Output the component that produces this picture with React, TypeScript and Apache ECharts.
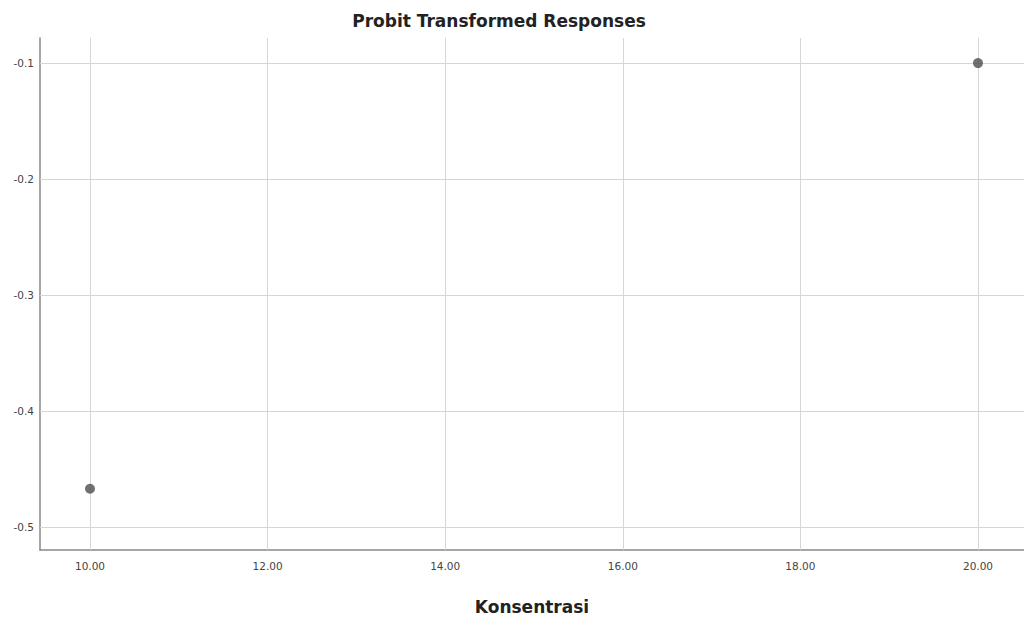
import React, { useEffect, useRef } from "react";
import * as echarts from "echarts";

const concentrations = [10, 20];
const probitValues = [-0.467, -0.1];
const xTicks = [10, 12, 14, 16, 18, 20];
const yTicks = [-0.5, -0.4, -0.3, -0.2, -0.1];

export default function App() {
  const ref = useRef<HTMLDivElement>(null);
  useEffect(() => {
    if (!ref.current) return;
    const chart = echarts.init(ref.current, null, { renderer: "svg" });
    const gridLine = { color: "#d6d6d6", width: 1, type: "solid" as const };
    chart.setOption({
      animation: false,
      backgroundColor: "#ffffff",
      title: {
        text: "Probit Transformed Responses",
        left: 494,
        textAlign: "center",
        top: 7,
        textStyle: { fontFamily: "DejaVu Sans", fontWeight: "bold", fontSize: 17, color: "#222" },
      },
      grid: { left: 40, right: 0, top: 38, bottom: 71, containLabel: false, outerBoundsMode: "none" },
      xAxis: {
        type: "value",
        min: 9.437,
        max: 20.518,
        name: "Konsentrasi",
        nameLocation: "middle",
        nameGap: 48,
        nameTextStyle: { fontFamily: "DejaVu Sans", fontWeight: "bold", fontSize: 17, color: "#222" },
        axisLine: { show: true, lineStyle: { color: "#888", width: 1.5 } },
        axisTick: { show: false },
        splitLine: { show: false },
        axisLabel: {
          customValues: xTicks,
          formatter: (v: number) => v.toFixed(2),
          fontFamily: "DejaVu Sans",
          fontSize: 10.5,
          color: "#444",
          margin: 10,
        },
      },
      yAxis: {
        type: "value",
        min: -0.5198,
        max: -0.0784,
        axisLine: { show: true, lineStyle: { color: "#888", width: 1.5 } },
        axisTick: { show: false },
        splitLine: { show: false },
        axisLabel: {
          customValues: yTicks,
          formatter: (v: number) => v.toFixed(1),
          fontFamily: "DejaVu Sans",
          fontSize: 10.5,
          color: "#444",
          margin: 6,
        },
      },
      series: [
        {
          type: "scatter",
          data: concentrations.map((c, i) => [c, probitValues[i]]),
          symbol: "circle",
          symbolSize: 10,
          itemStyle: { color: "#4d4d4d" },
          z: 5,
          markLine: {
            silent: true,
            symbol: ["none", "none"],
            label: { show: false },
            lineStyle: gridLine,
            z: 1,
            data: [
              ...xTicks.map((x) => ({ xAxis: x })),
              ...yTicks.map((y) => ({ yAxis: y })),
            ],
          },
        },
      ],
    });
    return () => chart.dispose();
  }, []);
  return <div ref={ref} style={{ position: "fixed", left: 0, top: 0, width: 1024, height: 621 }} />;
}
